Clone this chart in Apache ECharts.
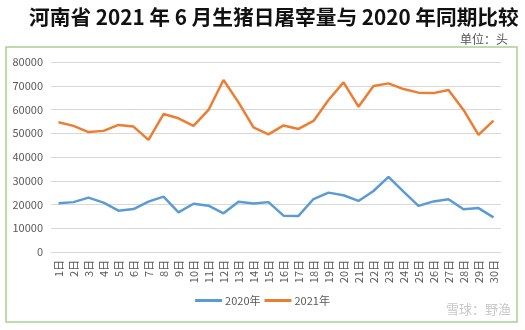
<!DOCTYPE html>
<html><head><meta charset="utf-8">
<script src="https://cdn.jsdelivr.net/npm/echarts@6/dist/echarts.min.js"></script>
<style>html,body{margin:0;padding:0;background:#fff}#c{width:525px;height:330px}</style>
</head><body><div id="c"></div>
<script>
var categories = ['1日','2日','3日','4日','5日','6日','7日','8日','9日','10日','11日','12日','13日','14日','15日','16日','17日','18日','19日','20日','21日','22日','23日','24日','25日','26日','27日','28日','29日','30日'];
var values2020 = [20500,21000,22900,20800,17400,18100,21200,23300,16700,20300,19500,16300,21200,20400,21000,15300,15200,22300,25000,23900,21500,25700,31600,25400,19400,21300,22200,18000,18500,14600];
var values2021 = [54600,53100,50500,51000,53500,52800,47200,58100,56300,53100,59800,72400,63000,52500,49500,53300,51800,55200,64000,71400,61200,69900,71000,68600,67100,66900,68200,59800,49300,55300];
var yTicks = [0,10000,20000,30000,40000,50000,60000,70000,80000];

var chart = echarts.init(document.getElementById('c'));
chart.setOption({
  animation:false,
  backgroundColor:'#fff',
  title:[{text:'河南省 2021 年 6 月生猪日屠宰量与 2020 年同期比较', left:24, top:2,
    textStyle:{fontFamily:'Noto Sans CJK SC', fontWeight:'bold', fontSize:20.7, color:'#111'}},
    {text:'单位：头', right:12, top:28, textStyle:{fontFamily:'Noto Sans CJK SC', fontWeight:'normal', fontSize:12, color:'#555'}}],
  graphic:[{type:'rect', shape:{x:6,y:47,width:511,height:275}, style:{fill:'none', stroke:'#a9d18e', lineWidth:1.5}, silent:true},
    {type:'text', right:14, bottom:14, style:{text:'雪球：野渔', fill:'#c8c8c8', fontSize:13, fontFamily:'Noto Sans CJK SC'}}],
  legend:{bottom:19, left:'center', itemWidth:27, itemHeight:3, itemGap:4,
    textStyle:{fontFamily:'Noto Sans CJK SC', fontSize:11, color:'#595959', padding:[0,0,0,-2]},
    data:[{name:'2020年', icon:'rect'},{name:'2021年', icon:'rect'}]},
  grid:{left:51, right:24, top:62, bottom:78},
  xAxis:{type:'category', data:categories, boundaryGap:true,
    axisLine:{show:true, lineStyle:{color:'#d9d9d9'}}, axisTick:{show:false},
    axisLabel:{rotate:90, interval:0, fontSize:11, color:'#595959', fontFamily:'Noto Sans CJK SC', margin:8}},
  yAxis:{type:'value', min:0, max:80000, interval:10000,
    axisLine:{show:false}, axisTick:{show:false},
    splitLine:{lineStyle:{color:'#d9d9d9'}},
    axisLabel:{fontSize:11, color:'#595959', fontFamily:'Noto Sans CJK SC', margin:8,
      formatter:function(v){return yTicks.indexOf(v)>=0?String(v):'';}}},
  series:[
    {name:'2020年', type:'line', data:values2020, symbol:'none', lineStyle:{width:2.5, color:'#5b9bd5'}, itemStyle:{color:'#5b9bd5'}},
    {name:'2021年', type:'line', data:values2021, symbol:'none', lineStyle:{width:2.5, color:'#ed7d31'}, itemStyle:{color:'#ed7d31'}}
  ]
});
</script></body></html>
